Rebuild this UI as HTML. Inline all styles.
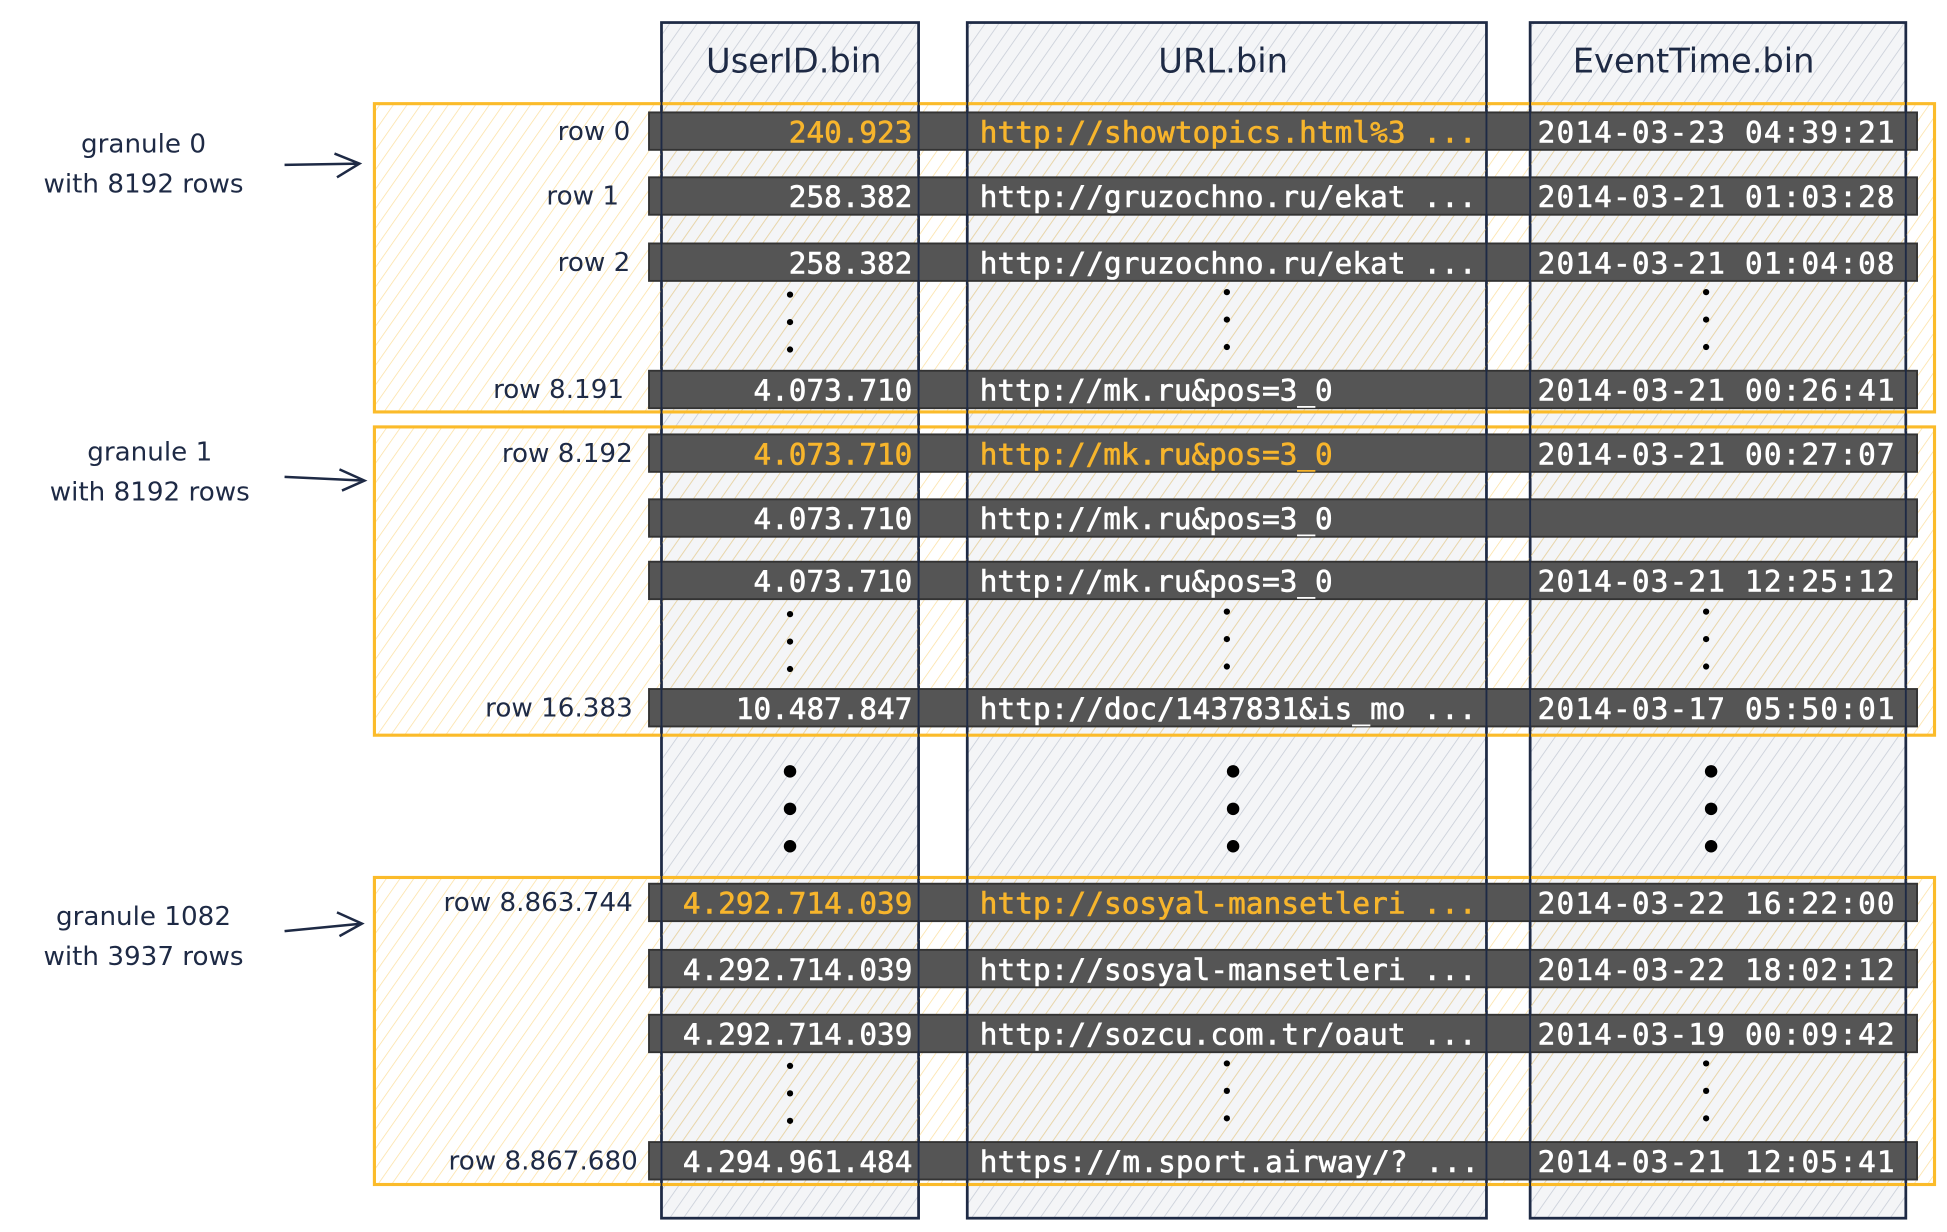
<!DOCTYPE html>
<html><head><meta charset="utf-8"><style>
html,body{margin:0;padding:0;background:#fff;}
svg{display:block;}
.h{font-family:"DejaVu Sans","Liberation Sans",sans-serif;font-size:27px;fill:#1e2a45;}
.l{font-family:"DejaVu Sans","Liberation Sans",sans-serif;font-size:21px;fill:#1e2a45;}
.m{font-family:"DejaVu Sans Mono","Liberation Mono",monospace;font-size:23.5px;fill:#fff;stroke:#fff;stroke-width:0.5px;}
.y{fill:#f7b52c;stroke:#f7b52c;}
</style></head><body>
<svg width="1947" height="1232" viewBox="0 0 1560 987" xmlns="http://www.w3.org/2000/svg">
<defs>
<pattern id="gh" width="9" height="9" patternUnits="userSpaceOnUse" patternTransform="rotate(35)">
<rect width="9" height="9" fill="#f4f5f7"/><line x1="0" y1="0" x2="0" y2="9" stroke="#c9ced8" stroke-width="1.3"/></pattern>
<pattern id="yh" width="9" height="9" patternUnits="userSpaceOnUse" patternTransform="rotate(35)">
<line x1="0" y1="0" x2="0" y2="9" stroke="#fbd98a" stroke-width="1.2" opacity="0.8"/></pattern>
</defs>
<g stroke="#1e2a45" stroke-width="2.2">
<rect x="530" y="18" width="206" height="958" fill="url(#gh)"/>
<rect x="775" y="18" width="416" height="958" fill="url(#gh)"/>
<rect x="1226" y="18" width="301" height="958" fill="url(#gh)"/>
</g>
<text class="h" x="636" y="58" text-anchor="middle">UserID.bin</text>
<text class="h" x="980" y="58" text-anchor="middle">URL.bin</text>
<text class="h" x="1357" y="58" text-anchor="middle">EventTime.bin</text>
<g stroke="#fbbb2a" stroke-width="2.5" fill="url(#yh)">
<rect x="300" y="83" width="1250" height="247"/>
<rect x="300" y="342" width="1250" height="247"/>
<rect x="300" y="703" width="1250" height="246"/>
</g>
<g fill="#555555" stroke="#333" stroke-width="1.5">
<rect x="520" y="90" width="1016" height="30"/>
<rect x="520" y="142" width="1016" height="30"/>
<rect x="520" y="195" width="1016" height="30"/>
<rect x="520" y="297" width="1016" height="30"/>
<rect x="520" y="348" width="1016" height="30"/>
<rect x="520" y="400" width="1016" height="30"/>
<rect x="520" y="450" width="1016" height="30"/>
<rect x="520" y="552" width="1016" height="30"/>
<rect x="520" y="708" width="1016" height="30"/>
<rect x="520" y="761" width="1016" height="30"/>
<rect x="520" y="813" width="1016" height="30"/>
<rect x="520" y="915" width="1016" height="30"/>
</g>
<g stroke="#1e2a45" stroke-width="1.5" fill="none">
<line x1="530" y1="18" x2="530" y2="976"/><line x1="736" y1="18" x2="736" y2="976"/>
<line x1="775" y1="18" x2="775" y2="976"/><line x1="1191" y1="18" x2="1191" y2="976"/>
<line x1="1226" y1="18" x2="1226" y2="976"/><line x1="1527" y1="18" x2="1527" y2="976"/>
</g>
<g class="l" text-anchor="end">
<text x="505" y="112">row 0</text><text x="496" y="164">row 1</text><text x="505" y="217">row 2</text>
<text x="500" y="319">row 8.191</text><text x="507" y="370">row 8.192</text><text x="507" y="574">row 16.383</text>
<text x="507" y="730">row 8.863.744</text><text x="511" y="937">row 8.867.680</text>
</g>
<g class="l" text-anchor="middle">
<text x="115" y="122">granule 0</text><text x="115" y="154">with 8192 rows</text>
<text x="120" y="369">granule 1</text><text x="120" y="401">with 8192 rows</text>
<text x="115" y="741">granule 1082</text><text x="115" y="773">with 3937 rows</text>
</g>
<g stroke="#1e2a45" stroke-width="2" fill="none">
<path d="M228 132 L288 131 M268 123 L288 131 L270 142"/>
<path d="M228 382 L292 385 M272 376 L292 385 L274 393"/>
<path d="M228 746 L290 740 M270 731 L290 740 L272 750"/>
</g>
<g class="m">
<g text-anchor="end">
<text x="731" y="114" class="m y">240.923</text>
<text x="731" y="166">258.382</text>
<text x="731" y="219">258.382</text>
<text x="731" y="321">4.073.710</text>
<text x="731" y="372" class="m y">4.073.710</text>
<text x="731" y="424">4.073.710</text>
<text x="731" y="474">4.073.710</text>
<text x="731" y="576">10.487.847</text>
<text x="731" y="732" class="m y">4.292.714.039</text>
<text x="731" y="785">4.292.714.039</text>
<text x="731" y="837">4.292.714.039</text>
<text x="731" y="939">4.294.961.484</text>
</g>
<text x="785" y="114" class="m y" textLength="398">http://showtopics.html%3 ...</text>
<text x="785" y="166" textLength="398">http://gruzochno.ru/ekat ...</text>
<text x="785" y="219" textLength="398">http://gruzochno.ru/ekat ...</text>
<text x="785" y="321">http://mk.ru&amp;pos=3_0</text>
<text x="785" y="372" class="m y">http://mk.ru&amp;pos=3_0</text>
<text x="785" y="424">http://mk.ru&amp;pos=3_0</text>
<text x="785" y="474">http://mk.ru&amp;pos=3_0</text>
<text x="785" y="576" textLength="398">http://doc/1437831&amp;is_mo ...</text>
<text x="785" y="732" class="m y" textLength="398">http://sosyal-mansetleri ...</text>
<text x="785" y="785" textLength="398">http://sosyal-mansetleri ...</text>
<text x="785" y="837" textLength="398">http://sozcu.com.tr/oaut ...</text>
<text x="785" y="939" textLength="400">https://m.sport.airway/? ...</text>
<g>
<text x="1232" y="114" textLength="286">2014-03-23 04:39:21</text>
<text x="1232" y="166" textLength="286">2014-03-21 01:03:28</text>
<text x="1232" y="219" textLength="286">2014-03-21 01:04:08</text>
<text x="1232" y="321" textLength="286">2014-03-21 00:26:41</text>
<text x="1232" y="372" textLength="286">2014-03-21 00:27:07</text>
<text x="1232" y="474" textLength="286">2014-03-21 12:25:12</text>
<text x="1232" y="576" textLength="286">2014-03-17 05:50:01</text>
<text x="1232" y="732" textLength="286">2014-03-22 16:22:00</text>
<text x="1232" y="785" textLength="286">2014-03-22 18:02:12</text>
<text x="1232" y="837" textLength="286">2014-03-19 00:09:42</text>
<text x="1232" y="939" textLength="286">2014-03-21 12:05:41</text>
</g>
</g>
<g fill="#000">
<circle cx="633" cy="236" r="2.5"/><circle cx="633" cy="258" r="2.5"/><circle cx="633" cy="280" r="2.5"/>
<circle cx="983" cy="234" r="2.5"/><circle cx="983" cy="256" r="2.5"/><circle cx="983" cy="278" r="2.5"/>
<circle cx="1367" cy="234" r="2.5"/><circle cx="1367" cy="256" r="2.5"/><circle cx="1367" cy="278" r="2.5"/>
<circle cx="633" cy="492" r="2.5"/><circle cx="633" cy="514" r="2.5"/><circle cx="633" cy="536" r="2.5"/>
<circle cx="983" cy="490" r="2.5"/><circle cx="983" cy="512" r="2.5"/><circle cx="983" cy="534" r="2.5"/>
<circle cx="1367" cy="490" r="2.5"/><circle cx="1367" cy="512" r="2.5"/><circle cx="1367" cy="534" r="2.5"/>
<circle cx="633" cy="854" r="2.5"/><circle cx="633" cy="876" r="2.5"/><circle cx="633" cy="898" r="2.5"/>
<circle cx="983" cy="852" r="2.5"/><circle cx="983" cy="874" r="2.5"/><circle cx="983" cy="896" r="2.5"/>
<circle cx="1367" cy="852" r="2.5"/><circle cx="1367" cy="874" r="2.5"/><circle cx="1367" cy="896" r="2.5"/>
<circle cx="633" cy="618" r="5"/><circle cx="633" cy="648" r="5"/><circle cx="633" cy="678" r="5"/>
<circle cx="988" cy="618" r="5"/><circle cx="988" cy="648" r="5"/><circle cx="988" cy="678" r="5"/>
<circle cx="1371" cy="618" r="5"/><circle cx="1371" cy="648" r="5"/><circle cx="1371" cy="678" r="5"/>
</g>
</svg>
</body></html>
